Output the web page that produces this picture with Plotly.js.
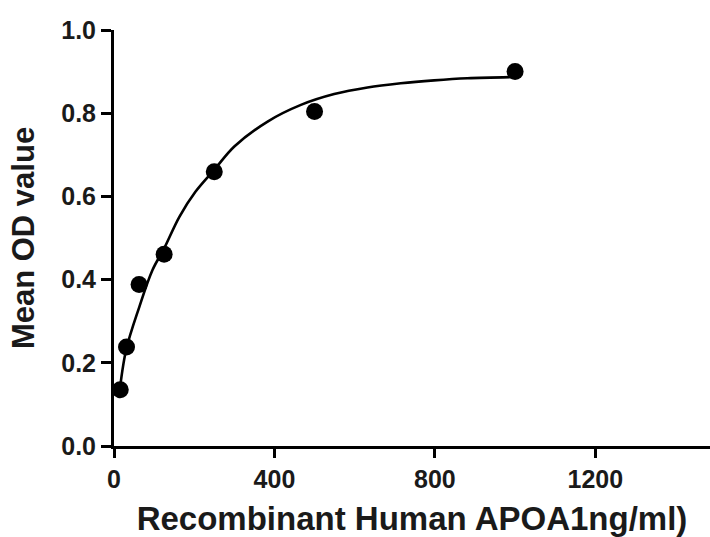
<!DOCTYPE html>
<html>
<head>
<meta charset="utf-8">
<script src="https://cdn.plot.ly/plotly-3.0.1.min.js"></script>
<style>html,body{margin:0;padding:0;background:#fff;}#chart{width:710px;height:537px;}</style>
</head>
<body>
<div id="chart"></div>
<script>
// Measured points (concentration ng/ml, mean OD)
const concentrations = [15.6, 31.25, 62.5, 125, 250, 500, 1000];
const meanOD = [0.135, 0.238, 0.388, 0.461, 0.659, 0.804, 0.900];

// Fitted curve
const curveX = [12, 30, 63, 96, 125, 163, 203, 250, 300, 383, 466, 549, 632, 715, 798, 881, 1000];
const curveY = [0.115, 0.23, 0.334, 0.423, 0.475, 0.551, 0.611, 0.664, 0.72, 0.78, 0.82, 0.846, 0.862, 0.872, 0.879, 0.884, 0.887];

const xTicks = [0, 400, 800, 1200];
const yTicks = [0.0, 0.2, 0.4, 0.6, 0.8, 1.0];

const fontFam = '"Liberation Sans", Arial, Helvetica, sans-serif';

const traces = [
  {
    x: curveX, y: curveY, type: 'scatter', mode: 'lines',
    line: {color: '#000', width: 2.6, shape: 'spline', smoothing: 1},
    hoverinfo: 'skip', showlegend: false
  },
  {
    x: concentrations, y: meanOD, type: 'scatter', mode: 'markers',
    marker: {color: '#000', size: 17, symbol: 'circle'},
    showlegend: false
  }
];

const layout = {
  width: 710, height: 537,
  margin: {l: 114, r: 0, t: 30, b: 91, pad: 0},
  paper_bgcolor: '#fff', plot_bgcolor: '#fff',
  font: {family: fontFam, color: '#000'},
  showlegend: false,
  xaxis: {
    range: [0, 1486],
    tickvals: xTicks, ticktext: xTicks.map(String),
    ticks: 'outside', ticklen: 9, tickwidth: 3, tickcolor: '#000',
    showline: true, linewidth: 3, linecolor: '#000',
    showgrid: false, zeroline: false,
    tickfont: {family: fontFam, size: 25, color: '#1a1a1a', weight: 'bold'},
    title: {text: 'Recombinant Human APOA1ng/ml)', standoff: 16,
            font: {family: fontFam, size: 33, color: '#1a1a1a', weight: 'bold'}}
  },
  yaxis: {
    range: [0, 1.0],
    tickvals: yTicks, ticktext: yTicks.map(v => v.toFixed(1)),
    ticks: 'outside', ticklen: 10, tickwidth: 3, tickcolor: '#000',
    showline: true, linewidth: 3, linecolor: '#000',
    showgrid: false, zeroline: false,
    tickfont: {family: fontFam, size: 25, color: '#1a1a1a', weight: 'bold'},
    title: {text: 'Mean OD value', standoff: 18,
            font: {family: fontFam, size: 31, color: '#1a1a1a', weight: 'bold'}}
  }
};

Plotly.newPlot('chart', traces, layout, {displayModeBar: false, staticPlot: true});
</script>
</body>
</html>
